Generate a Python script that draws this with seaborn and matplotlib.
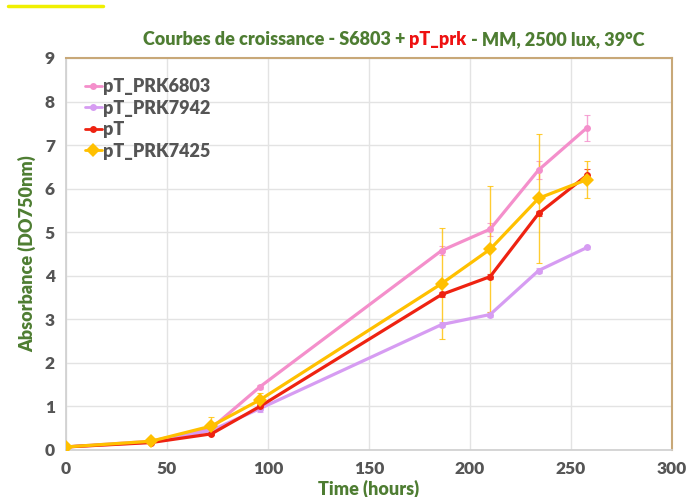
import numpy as np
import pandas as pd
import seaborn as sns
import matplotlib.pyplot as plt
from matplotlib.lines import Line2D

sns.set_theme(style="whitegrid")
plt.rcParams['font.family'] = ['Lato', 'DejaVu Sans']

time_h = [0, 42, 72, 96, 186, 210, 234, 258]
series = ['pT_PRK6803', 'pT_PRK7942', 'pT', 'pT_PRK7425']
od_6803 = [0.07, 0.20, 0.50, 1.45, 4.58, 5.07, 6.43, 7.40]
od_7942 = [0.07, 0.18, 0.45, 0.95, 2.88, 3.11, 4.12, 4.65]
od_pt = [0.07, 0.17, 0.37, 1.00, 3.57, 3.98, 5.43, 6.31]
od_7425 = [0.07, 0.20, 0.55, 1.15, 3.82, 4.61, 5.78, 6.21]
err_6803 = [0.0, 0.0, 0.05, 0.05, 0.10, 0.15, 0.20, 0.30]
err_7942 = [0.0, 0.0, 0.03, 0.08, 0.05, 0.05, 0.05, 0.03]
err_pt = [0.0, 0.0, 0.03, 0.05, 0.05, 0.05, 0.05, 0.15]
err_7425 = [0.02, 0.03, 0.20, 0.15, 1.28, 1.44, 1.48, 0.42]

colors = {'pT_PRK6803': '#f48fcb', 'pT_PRK7942': '#d69cf2',
          'pT': '#ee2211', 'pT_PRK7425': '#ffc000'}
markers = {'pT_PRK6803': 'o', 'pT_PRK7942': 'o', 'pT': 'o',
           'pT_PRK7425': 'D'}
sizes = {'pT_PRK6803': 5, 'pT_PRK7942': 5, 'pT': 5, 'pT_PRK7425': 7}

values = [od_6803, od_7942, od_pt, od_7425]
errors = [err_6803, err_7942, err_pt, err_7425]
df = pd.concat([pd.DataFrame({'time': time_h, 'od': v, 'err': e, 'strain': s})
                for s, v, e in zip(series, values, errors)])

green = '#4e7d32'
grey_txt = '#555555'

fig = plt.figure(figsize=(6.97, 4.97), dpi=100)
ax = fig.add_axes([0.0947, 0.0946, 0.8693, 0.7887])

for s in series:
    d = df[df['strain'] == s]
    ax.errorbar(d['time'], d['od'], yerr=d['err'], fmt='none',
                ecolor=colors[s], elinewidth=1, capsize=2, capthick=0.8,
                alpha=0.8, zorder=2)

for s in series:
    sns.lineplot(data=df[df['strain'] == s], x='time', y='od', ax=ax,
                 color=colors[s], marker=markers[s], markersize=sizes[s],
                 markeredgewidth=0, linewidth=2.3, zorder=3, legend=False)

ax.set_xlim(0, 300)
ax.set_ylim(0, 9)
ax.set_xticks(range(0, 301, 50))
ax.set_yticks(range(0, 10))
ax.grid(True, color='#e3e3e3', linewidth=1)
ax.set_facecolor('white')
for side in ['left', 'bottom']:
    ax.spines[side].set_color('#d0d0d0')
for side in ['top', 'right']:
    ax.spines[side].set_color('#c8a878')
    ax.spines[side].set_linewidth(1.5)
ax.tick_params(axis='both', length=0, labelsize=12.5, labelcolor=grey_txt,
               pad=8)
for lab in ax.get_xticklabels() + ax.get_yticklabels():
    lab.set_fontweight('heavy')

ax.set_xlabel('Time (hours)', fontsize=13, fontweight='heavy', color=green,
              labelpad=2)
ax.set_ylabel('Absorbance (DO750nm)', fontsize=13, fontweight='heavy',
              color=green, labelpad=6)

handles = [Line2D([0], [0], color=colors[s], marker=markers[s],
                  markersize=sizes[s], markeredgewidth=0, linewidth=2)
           for s in series]
leg = ax.legend(handles, series, loc='upper left', bbox_to_anchor=(0.005, 0.99),
                frameon=False, handlelength=0.9, handletextpad=0.1,
                labelspacing=0.25, prop={'weight': 'heavy', 'size': 13})
for t in leg.get_texts():
    t.set_color(grey_txt)

# title in three coloured parts
t1 = fig.text(0.205, 0.903, 'Courbes de croissance - S6803 + ', fontsize=13,
              fontweight='heavy', color=green, va='bottom')
t2 = ax.annotate('pT_prk', xy=(1, 0), xycoords=t1, va='bottom', fontsize=13,
                 fontweight='heavy', color='#ee1111')
t3 = ax.annotate(' - MM, 2500 lux, 39°C', xy=(1, 0), xycoords=t2,
                 va='bottom', fontsize=13, fontweight='heavy', color=green)

fig.add_artist(Line2D([0.012, 0.148], [0.988, 0.988], color='#f0f000',
                      linewidth=2.5))

fig.savefig('out.png', dpi=100)
